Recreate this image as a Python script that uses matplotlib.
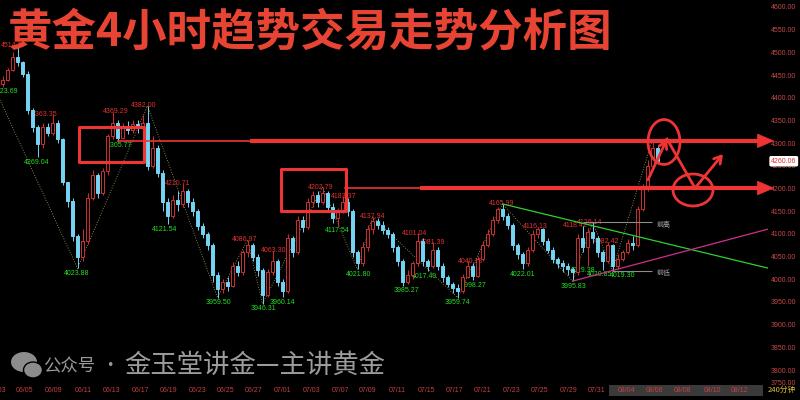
import matplotlib
matplotlib.use("Agg")
import matplotlib.pyplot as plt
from matplotlib.patches import Rectangle, Ellipse, Polygon

plt.rcParams['font.family'] = ['Liberation Sans', 'Noto Sans CJK SC', 'DejaVu Sans']
CJK = ['Noto Sans CJK SC', 'DejaVu Sans']

# 4H candles (coarsened)
first_open = 4430
closes = [4440, 4462, 4490, 4478, 4452, 4372, 4335, 4298, 4335, 4322,
          4345, 4310, 4215, 4172, 4095, 4050, 4085, 4180, 4230, 4190,
          4238, 4315, 4345, 4312, 4338, 4328, 4342, 4335, 4345, 4250,
          4290, 4235, 4170, 4140, 4175, 4165, 4195, 4170, 4150, 4118,
          4100, 4075, 4010, 3978, 3995, 3985, 4030, 4015, 4060, 4075,
          4050, 4020, 3965, 4015, 4040, 3995, 3975, 4090, 4060, 4130,
          4115, 4170, 4185, 4170, 4190, 4160, 4135, 4150, 4170, 4150,
          4060, 4035, 4070, 4110, 4128, 4120, 4108, 4100, 4070, 4040,
          3995, 4010, 4035, 4085, 4040, 4030, 4065, 4030, 4005, 3990,
          3980, 3975, 4005, 4030, 4008, 4045, 4075, 4100, 4130, 4155,
          4140, 4120, 4075, 4055, 4035, 4065, 4100, 4110, 4085, 4065,
          4045, 4035, 4030, 4022, 4015, 4090, 4070, 4105, 4090, 4060,
          4040, 4075, 4030, 4045, 4060, 4080, 4075, 4155, 4200, 4250,
          4290, 4260.06]
highs = [4448, 4466, 4500, 4514.17, 4482, 4458, 4378, 4340, 4345, 4345,
         4363.35, 4350, 4312, 4215, 4178, 4100, 4110, 4190, 4240, 4235,
         4245, 4320, 4369.29, 4350, 4345, 4348, 4352, 4350, 4362, 4382.00,
         4315, 4295, 4240, 4180, 4185, 4195, 4210.71, 4200, 4178, 4155,
         4125, 4105, 4080, 4015, 4000, 4005, 4038, 4040, 4065, 4086.97,
         4080, 4055, 4025, 4022, 4063.30, 4045, 4000, 4100, 4095, 4140,
         4140, 4180, 4195, 4195, 4202.79, 4195, 4168, 4158, 4183.37, 4180,
         4155, 4065, 4082, 4120, 4137.94, 4135, 4128, 4115, 4105, 4075,
         4045, 4020, 4040, 4101.04, 4090, 4045, 4081.39, 4070, 4035, 4010,
         3995, 3990, 4012, 4040.18, 4035, 4052, 4085, 4110, 4140, 4160,
         4165.99, 4145, 4125, 4080, 4060, 4072, 4108, 4116.13, 4112, 4090,
         4070, 4050, 4042, 4036, 4028, 4100, 4118.42, 4112, 4126.14, 4095,
         4065, 4082.42, 4078, 4055, 4065, 4088, 4095, 4162, 4210, 4262,
         4309, 4295]
lows = [4423.69, 4436, 4458, 4470, 4445, 4365, 4325, 4269.04, 4290, 4315,
        4318, 4300, 4208, 4160, 4085, 4023.88, 4040, 4078, 4175, 4180,
        4185, 4230, 4310, 4305.77, 4308, 4320, 4322, 4322, 4328, 4240,
        4245, 4225, 4150, 4121.54, 4135, 4150, 4160, 4160, 4140, 4108,
        4090, 4065, 3995, 3959.50, 3970, 3975, 3982, 4008, 4010, 4050,
        4040, 4008, 3946.31, 3960, 4010, 3985, 3960.14, 3970, 4050, 4055,
        4105, 4110, 4160, 4160, 4165, 4150, 4125, 4117.54, 4145, 4140,
        4050, 4021.80, 4030, 4062, 4100, 4110, 4100, 4090, 4060, 4030,
        3985.27, 3990, 4000, 4030, 4030, 4017.40, 4025, 4020, 3995, 3982,
        3970, 3959.74, 3970, 4002, 3998.27, 4005, 4040, 4070, 4095, 4125,
        4130, 4110, 4065, 4045, 4022.01, 4030, 4060, 4090, 4075, 4058,
        4035, 4025, 4015, 4010, 3995.83, 4010, 4060, 4029.38, 4080, 4050,
        4020.85, 4035, 4019.30, 4022, 4040, 4055, 4065, 4072, 4150, 4195,
        4245, 4255]
opens = [first_open] + closes[:-1]

# zigzag swing points (candle index, price)
zz_idx = [-0.5, 15, 29, 43, 49, 52, 64, 71, 74, 91, 100, 114, 118, 122, 130]
zz_px = [4395, 4023.88, 4382.00, 3959.50, 4086.97, 3946.31, 4202.79, 4021.80,
         4137.94, 3959.74, 4165.99, 3995.83, 4126.14, 4019.30, 4309]

# swing labels: text, x position (candle units)
hi_txt = ['4514.17', '4363.35', '4369.29', '4382.00', '4210.71', '4086.97', '4063.30',
          '4202.79', '4183.37', '4137.94', '4101.04', '4081.39', '4040.18', '4165.99',
          '4116.13', '4118.42', '4126.14', '4082.42']
hi_x = [2.2, 8.5, 22.7, 28.3, 35.1, 48.5, 54.3, 63.7, 68.3, 74.1, 82.5, 86.1, 93.7,
        99.9, 106.5, 114.5, 117.5, 120.9]
lo_txt = ['4423.69', '4269.04', '4023.88', '4305.77', '4121.54', '3959.50', '3946.31',
          '3960.14', '4117.54', '4021.80', '3985.27', '4017.40', '3959.74', '3998.27',
          '4022.01', '3995.83', '4029.38', '4020.85', '4019.30']
lo_x = [0.7, 6.9, 14.9, 23.5, 32.5, 43.1, 52.1, 55.9, 66.9, 71.3, 80.7, 84.5, 90.9,
        94.3, 104.1, 114.3, 116.1, 119.5, 124.1]

dates = ['06/03', '06/05', '06/09', '06/11', '06/13', '06/17', '06/19', '06/23', '06/25',
         '06/27', '07/01', '07/03', '07/07', '07/09', '07/11', '07/15', '07/17', '07/21',
         '07/23', '07/25', '07/29', '07/31', '08/04', '08/06', '08/08', '08/10', '08/12']
date_pos = [-0.9, 4.5, 10.3, 16.1, 21.9, 27.5, 33.3, 39.1, 44.7, 50.3, 56.1, 61.9, 67.5,
            73.1, 78.9, 84.9, 90.5, 96.1, 101.9, 107.5, 113.3, 118.9, 124.7, 130.5,
            136.1, 141.9, 147.5]

last_price = closes[-1]
res_level = 4305
sup_level = 4201
prev_high = 4126.14
prev_low = 4019.30

RED = '#ee3434'
UP = '#d03030'
DOWN = '#74d4f2'

fig = plt.figure(figsize=(8, 4), dpi=100, facecolor='black')
ax = fig.add_axes([0, 0.04, 0.96, 0.96], facecolor='black')
ax.set_xlim(-0.5, 153.1)
ax.set_ylim(3769.2, 4615.4)
for s in ax.spines.values():
    s.set_visible(False)

# candles
for i in range(len(closes)):
    o, c, h, l = opens[i], closes[i], highs[i], lows[i]
    up = c >= o
    col = UP if up else DOWN
    ax.vlines(i, l, h, color=col, lw=0.7, zorder=3)
    ax.bar(i, max(abs(c - o), 1.5), bottom=min(o, c), width=0.62,
           facecolor='black' if up else DOWN, edgecolor=col, lw=0.7, zorder=4)

# zigzag
ax.plot(zz_idx, zz_px, ls=(0, (1, 2)), color='#b8a860', lw=0.6, zorder=2)

# swing labels
for t, x in zip(hi_txt, hi_x):
    ax.text(x, float(t), t, color='#e63030', fontsize=5, ha='center', va='center', zorder=2)
for t, x in zip(lo_txt, lo_x):
    ax.annotate(t, (x, float(t)), xytext=(0, -3.6), textcoords='offset points',
                color='#22e022', fontsize=5, ha='center', va='center', zorder=2)

# trend lines
ax.plot([100, 153.5], [4165.99, 4023.5], color='#30d030', lw=0.9, zorder=5)
ax.plot([114, 153.1], [3995.83, 4110.5], color='#d0308a', lw=0.9, zorder=5)
ax.hlines(prev_high, 116.1, 129.9, color='#8c8c8c', lw=0.8, zorder=5)
ax.hlines(prev_low, 121.9, 129.9, color='#8c8c8c', lw=0.8, zorder=5)
ax.text(130.9, prev_high - 6, '前高', color='#a8a8a8', fontsize=5, family=CJK,
        ha='left', va='center')
ax.text(130.9, prev_low - 6, '前低', color='#a8a8a8', fontsize=5, family=CJK,
        ha='left', va='center')

# red levels with arrows
for lvl, x0, xthick in [(res_level, 23.1, 49.5), (sup_level, 68.5, 83.5)]:
    ax.plot([x0, 151.5], [lvl, lvl], color=RED, lw=1.2, zorder=6)
    ax.plot([xthick, 151.5], [lvl, lvl], color=RED, lw=3.0, zorder=6,
            solid_capstyle='butt', clip_on=False)
    ax.add_patch(Polygon([[151.0, lvl + 15], [154.2, lvl], [151.0, lvl - 15]],
                         closed=True, fc=RED, ec=RED, lw=0.5, zorder=6, clip_on=False))

# hand-drawn boxes, circles and arrows
ax.add_patch(Rectangle((15.3, 4258.4), 13.0, 77.2, fill=False, ec=RED, lw=2.2,
                       joinstyle='round', zorder=7))
ax.add_patch(Rectangle((55.7, 4150.5), 13.0, 92.5, fill=False, ec=RED, lw=2.2,
                       joinstyle='round', zorder=7))
ax.add_patch(Ellipse((132.3, 4302.5), 6.4, 99, fill=False, ec=RED, lw=2.0, zorder=7))
ax.add_patch(Ellipse((138.1, 4196.7), 8.0, 70.5, fill=False, ec=RED, lw=2.0, zorder=7))
arrow = dict(arrowstyle='->,head_length=0.5,head_width=0.3', color=RED, lw=2.0,
             shrinkA=0, shrinkB=0)
ax.annotate('', xy=(132.9, 4309), xytext=(129.1, 4219), arrowprops=arrow, zorder=7)
ax.plot([132.9, 138.5], [4309, 4201], color=RED, lw=2.0, zorder=7)
ax.annotate('', xy=(144.1, 4276), xytext=(138.5, 4201), arrowprops=arrow, zorder=7)

# right price axis
yt = list(range(3800, 4601, 50))
ax.yaxis.tick_right()
ax.set_yticks(yt)
ax.set_yticklabels([f'{v:.2f}' for v in yt])
ax.tick_params(axis='y', colors='#c84848', labelsize=5, length=0, pad=2)
ax.text(1.003, 3771, '3750.00', transform=ax.get_yaxis_transform(), color='#c84848',
        fontsize=5, ha='left', va='center', clip_on=False)
ax.text(1.004, last_price, f'{last_price:.2f}', transform=ax.get_yaxis_transform(),
        color='#e03030', fontsize=5, ha='left', va='center', clip_on=False, zorder=10,
        bbox=dict(boxstyle='round,pad=0.15', fc='white', ec='white'))

# bottom date bar
ax.set_xticks([])
ax.add_patch(Rectangle((121.3, -0.031), 30.8, 0.0285, transform=ax.get_xaxis_transform(),
                       fc='#3a3a3a', ec='none', clip_on=False, zorder=1))
for d, x in zip(dates, date_pos):
    ax.text(x, -0.016, d, transform=ax.get_xaxis_transform(), color='#c84040',
            fontsize=5, ha='center', va='center', clip_on=False)
ax.text(155.9, -0.016, '240分钟', transform=ax.get_xaxis_transform(), color='#e0c030',
        fontsize=5.5, family=CJK, ha='center', va='center', clip_on=False)

# title
fig.text(0.01, 0.918, '黄金4小时趋势交易走势分析图', fontsize=32, color='#e84434',
         fontweight='bold', family=CJK, ha='left', va='center')

# watermark
fig.add_artist(Ellipse((24 / 800, 1 - 362 / 400), 26 / 800, 20 / 400, fc='#8c8c8c',
                       ec='none', transform=fig.transFigure))
fig.add_artist(Ellipse((33 / 800, 1 - 370 / 400), 19 / 800, 16 / 400, fc='#8c8c8c',
                       ec='black', lw=1.0, transform=fig.transFigure))
fig.text(43 / 800, 1 - 366 / 400, '公众号', fontsize=12.5, color='#9a9a9a', family=CJK,
         ha='left', va='center')
fig.text(101 / 800, 1 - 366 / 400, '·', fontsize=12.5, color='#9a9a9a', family=CJK,
         ha='left', va='center')
fig.text(124 / 800, 1 - 365 / 400, '金玉堂讲金—主讲黄金', fontsize=19, color='#9c9c9c',
         family=CJK, ha='left', va='center')

fig.savefig('out.png', dpi=100, facecolor='black')
